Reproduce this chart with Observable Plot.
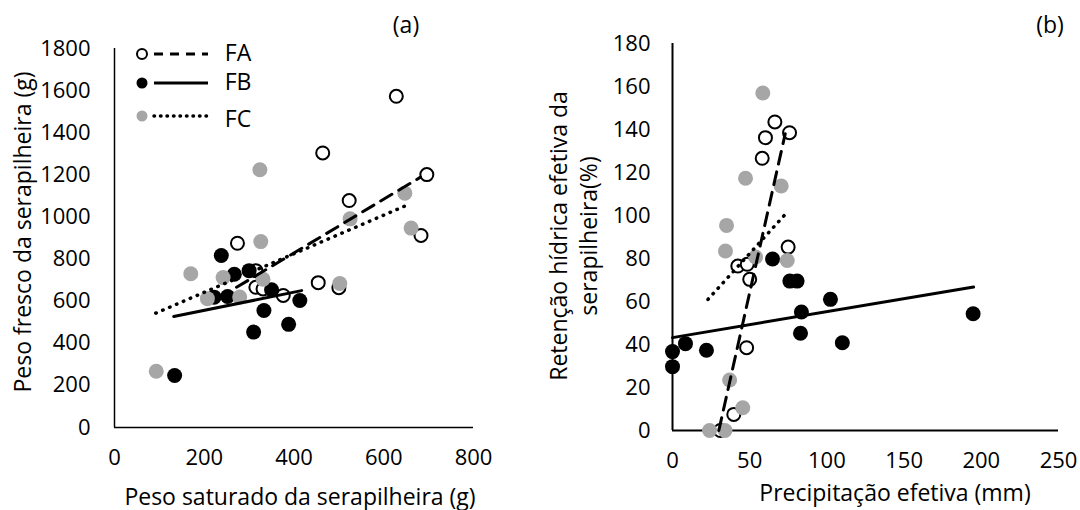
<!DOCTYPE html>
<html><head><meta charset="utf-8">
<script src="https://cdn.jsdelivr.net/npm/d3@7"></script>
<script src="https://cdn.jsdelivr.net/npm/@observablehq/plot@0.6"></script>
<style>
body{margin:0;background:#fff;font-family:"Open Sans",sans-serif;color:#000;}
#wrap{position:relative;width:1080px;height:510px;overflow:hidden;background:#fff;}
.panel{position:absolute;top:0;}
.t{position:absolute;white-space:nowrap;font-size:23px;line-height:1;transform:translate(-50%,-50%);}
</style></head><body><div id="wrap"></div>
<script>
// ---- Panel (a): Peso saturado (x) vs Peso fresco (y)
const aXTicks = [0, 200, 400, 600, 800];
const aYTicks = [0, 200, 400, 600, 800, 1000, 1200, 1400, 1600, 1800];
const aFA_x = [628, 464, 696, 523, 683, 274, 315, 315, 331, 376, 454, 500];
const aFA_y = [1573, 1304, 1201, 1078, 912, 875, 745, 666, 658, 627, 688, 664];
const aFB_x = [238, 267, 300, 222, 252, 350, 413, 333, 388, 310, 134];
const aFB_y = [817, 728, 745, 619, 622, 654, 603, 556, 490, 453, 247];
const aFC_x = [93, 170, 242, 326, 331, 207, 279, 324, 525, 647, 661, 502];
const aFC_y = [267, 730, 712, 883, 704, 612, 620, 1224, 991, 1113, 947, 684];
const aTrendFA_x = [272, 682], aTrendFA_y = [666, 1189];
const aTrendFB_x = [132, 417], aTrendFB_y = [527, 650];
const aTrendFC_x = [92, 655], aTrendFC_y = [543, 1059];

// ---- Panel (b): Precipitação efetiva (x) vs Retenção hídrica (y)
const bXTicks = [0, 50, 100, 150, 200, 250];
const bYTicks = [0, 20, 40, 60, 80, 100, 120, 140, 160, 180];
const bFA_x = [74.9, 42.3, 48.4, 50, 48, 39.7, 31, 66.3, 60.2, 75.8, 58.1];
const bFA_y = [85.3, 76.5, 77.3, 70.3, 38.5, 7.5, 0, 143.5, 136.2, 138.5, 126.6];
const bFB_x = [64.8, 76, 80.7, 102.3, 83.5, 82.9, 110, 8.4, 0, 22, 0, 194.7];
const bFB_y = [79.8, 69.5, 69.5, 61, 55.1, 45.2, 40.8, 40.4, 36.7, 37.3, 29.7, 54.3];
const bFC_x = [35, 34.3, 53.8, 74.3, 37, 45.5, 24, 34, 58.5, 47.3, 70.4];
const bFC_y = [95.4, 83.5, 80.7, 79.1, 23.5, 10.6, 0, 0, 157, 117.3, 113.7];
const bTrendFA_x = [30, 73], bTrendFA_y = [0, 138];
const bTrendFB_x = [0, 195], bTrendFB_y = [43.2, 66.7];
const bTrendFC_x = [23, 74], bTrendFC_y = [61, 101.3];

const series = ["FA", "FB", "FC"];
const GRAY = "#a6a6a6";
const zip = (xs, ys) => xs.map((x, i) => ({x, y: ys[i]}));

function panel(o) {
  return Plot.plot({
    width: 540, height: 510,
    marginLeft: o.ml, marginRight: o.mr, marginTop: o.mt, marginBottom: o.mb,
    x: {domain: o.xd}, y: {domain: o.yd},
    style: {fontFamily: "Open Sans", fontSize: "22px", color: "#000", background: "transparent", overflow: "visible"},
    marks: [
      Plot.axisX({ticks: o.xt, tickSize: 0, tickPadding: o.xp, tickFormat: d3.format("d"), label: null}),
      Plot.axisY({ticks: o.yt, tickSize: 0, tickPadding: o.yp, tickFormat: d3.format("d"), label: null}),
      Plot.ruleX([o.xd[0]], {stroke: "#000", strokeWidth: o.aw}),
      Plot.ruleY([o.yd[0]], {stroke: "#000", strokeWidth: o.aw}),
      Plot.dot(zip(o.fa[0], o.fa[1]), {x: "x", y: "y", r: 6.5, stroke: "#000", strokeWidth: 2, fill: "#fff"}),
      Plot.dot(zip(o.fb[0], o.fb[1]), {x: "x", y: "y", r: 7.5, fill: "#000"}),
      Plot.dot(zip(o.fc[0], o.fc[1]), {x: "x", y: "y", r: 7.5, fill: GRAY}),
      Plot.line(zip(o.tfa[0], o.tfa[1]), {x: "x", y: "y", stroke: "#000", strokeWidth: 3, strokeDasharray: "13,8"}),
      Plot.line(zip(o.tfb[0], o.tfb[1]), {x: "x", y: "y", stroke: "#000", strokeWidth: 3}),
      Plot.line(zip(o.tfc[0], o.tfc[1]), {x: "x", y: "y", stroke: "#000", strokeWidth: 3.5, strokeDasharray: "0.5,7", strokeLinecap: "round"})
    ]
  });
}

const wrap = document.getElementById("wrap");
const pA = panel({ml: 114, mr: 67, mt: 48, mb: 83, xd: [0, 800], yd: [0, 1800], xt: aXTicks, yt: aYTicks, aw: 1.5, xp: 22, yp: 24,
  fa: [aFA_x, aFA_y], fb: [aFB_x, aFB_y], fc: [aFC_x, aFC_y],
  tfa: [aTrendFA_x, aTrendFA_y], tfb: [aTrendFB_x, aTrendFB_y], tfc: [aTrendFC_x, aTrendFC_y]});
pA.classList.add("panel"); pA.style.left = "0px";
wrap.appendChild(pA);
const pB = panel({ml: 132, mr: 22, mt: 43, mb: 80, xd: [0, 250], yd: [0, 180], xt: bXTicks, yt: bYTicks, aw: 2, xp: 22, yp: 22,
  fa: [bFA_x, bFA_y], fb: [bFB_x, bFB_y], fc: [bFC_x, bFC_y],
  tfa: [bTrendFA_x, bTrendFA_y], tfb: [bTrendFB_x, bTrendFB_y], tfc: [bTrendFC_x, bTrendFC_y]});
pB.classList.add("panel"); pB.style.left = "540px";
wrap.appendChild(pB);

function txt(s, x, y, extra) {
  const d = document.createElement("div");
  d.className = "t"; d.innerHTML = s;
  d.style.left = x + "px"; d.style.top = y + "px";
  if (extra) Object.assign(d.style, extra);
  wrap.appendChild(d);
  return d;
}
txt("(a)", 406, 24);
txt("(b)", 1050, 24);
txt("Peso saturado da serapilheira (g)", 300, 496);
txt("Precipitação efetiva (mm)", 895, 492);
txt("Peso fresco da serapilheira (g)", 22, 232, {transform: "translate(-50%,-50%) rotate(-90deg)"});
txt("Retenção hídrica efetiva da<br>serapilheira(%)", 573, 236, {transform: "translate(-50%,-50%) rotate(-90deg)", textAlign: "center", lineHeight: "30px"});

// legend
const ns = "http://www.w3.org/2000/svg";
const leg = document.createElementNS(ns, "svg");
leg.setAttribute("width", 80); leg.setAttribute("height", 90);
leg.style.position = "absolute"; leg.style.left = "130px"; leg.style.top = "40px";
const legRows = [
  {y: 14, fill: "#fff", stroke: "#000", dash: "9,7", cap: "butt", w: 3},
  {y: 43, fill: "#000", stroke: "none", dash: null, cap: "butt", w: 3},
  {y: 76, fill: GRAY, stroke: "none", dash: "0.5,6", cap: "round", w: 3.5}
];
legRows.forEach((r, i) => {
  const c = document.createElementNS(ns, "circle");
  c.setAttribute("cx", 12); c.setAttribute("cy", r.y); c.setAttribute("r", i === 0 ? 5 : 5.5);
  c.setAttribute("fill", r.fill); c.setAttribute("stroke", r.stroke); c.setAttribute("stroke-width", 2);
  leg.appendChild(c);
  const l = document.createElementNS(ns, "line");
  l.setAttribute("x1", 24); l.setAttribute("x2", 78); l.setAttribute("y1", r.y); l.setAttribute("y2", r.y);
  l.setAttribute("stroke", "#000"); l.setAttribute("stroke-width", r.w); l.setAttribute("stroke-linecap", r.cap);
  if (r.dash) l.setAttribute("stroke-dasharray", r.dash);
  leg.appendChild(l);
  txt(series[i], 238, 40 + r.y + (i === 2 ? 4 : 0) - 2);
});
wrap.appendChild(leg);
</script>
</body></html>
